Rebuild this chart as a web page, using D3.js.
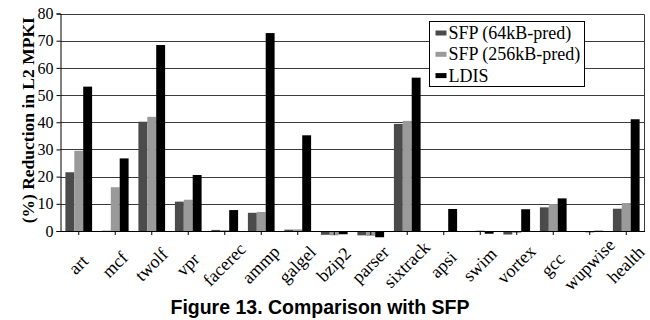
<!DOCTYPE html>
<html>
<head>
<meta charset="utf-8">
<script src="https://cdn.jsdelivr.net/npm/d3@7"></script>
<style>
	body { margin: 0; background: #fff; }
	svg { display: block; }
</style>
</head>
<body>
<svg id="chart" width="650" height="320"></svg>
<script>
// benchmarks along the x axis
const benchmarks = ["art", "mcf", "twolf", "vpr", "facerec", "ammp", "galgel", "bzip2",
	"parser", "sixtrack", "apsi", "swim", "vortex", "gcc", "wupwise", "health"];
// series, % reduction in L2 MPKI
const seriesNames = ["SFP (64kB-pred)", "SFP (256kB-pred)", "LDIS"];
const sfp64 = [21.6, 0.1, 40.2, 10.8, 0.4, 6.7, 0.5, -1.4, -1.6, 39.4, -0.3, -0.2, -1.3, 8.7, -0.3, 8.2];
const sfp256 = [29.5, 16.1, 42.0, 11.5, 0.3, 7.0, 0.6, -1.6, -1.8, 40.5, -0.4, 0.2, -0.7, 9.9, -0.6, 10.3];
const ldis = [53.1, 26.7, 68.4, 20.6, 7.7, 72.8, 35.2, -1.2, -2.3, 56.4, 8.1, -1.0, 8.0, 12.0, 0.1, 41.1];
const yTicks = [0, 10, 20, 30, 40, 50, 60, 70, 80];

const colors = ["#4b4b4b", "#9a9a9a", "#000"];
const serif = "'Liberation Serif', 'Times New Roman', serif";

function drawChart() {
	const svg = d3.select("#chart");
	const left = 60.5, right = 644.5, top = 13.5, bottom = 231;

	const x = d3.scaleBand().domain(benchmarks).range([left, right]);
	const x1 = d3.scaleBand().domain(d3.range(3)).range([0, x.bandwidth()]).paddingOuter(0.55);
	const y = d3.scaleLinear().domain([0, 80]).range([bottom, top]);

	// grid lines
	svg.append("g")
		.selectAll("line")
		.data(yTicks.filter(d => d > 0))
		.join("line")
		.attr("x1", left).attr("x2", right)
		.attr("y1", d => Math.round(y(d)) + 0.5).attr("y2", d => Math.round(y(d)) + 0.5)
		.attr("stroke", "#3a3a3a").attr("stroke-width", 1);
	// right frame
	svg.append("line")
		.attr("x1", right).attr("x2", right)
		.attr("y1", Math.round(y(80)) + 0.5).attr("y2", y(0))
		.attr("stroke", "#3a3a3a");

	// bars
	const values = [sfp64, sfp256, ldis];
	const rows = [];
	benchmarks.forEach((b, i) => {
		values.forEach((v, s) => rows.push({ b: b, s: s, v: v[i] }));
	});
	svg.append("g")
		.selectAll("rect")
		.data(rows)
		.join("rect")
		.attr("x", d => x(d.b) + x1(d.s))
		.attr("width", x1.bandwidth())
		.attr("y", d => y(Math.max(0, d.v)))
		.attr("height", d => Math.abs(y(d.v) - y(0)))
		.attr("fill", d => colors[d.s]);

	// y axis
	const yAxis = svg.append("g")
		.attr("transform", `translate(${left},0)`)
		.call(d3.axisLeft(y).tickValues(yTicks).tickSize(4).tickPadding(3));
	yAxis.attr("font-family", serif).attr("font-size", 16);
	yAxis.select(".domain").attr("stroke", "#000");
	yAxis.selectAll("text").attr("fill", "#000");

	// x axis, labels rotated and centred under their tick
	const xAxis = svg.append("g")
		.attr("transform", `translate(0,${bottom})`)
		.call(d3.axisBottom(x).tickSize(4).tickSizeOuter(0));
	xAxis.attr("font-family", serif).attr("font-size", 18);
	xAxis.select(".domain").attr("stroke", "#000");
	xAxis.selectAll("text")
		.attr("fill", "#000")
		.attr("text-anchor", "middle")
		.attr("x", 0).attr("y", 0).attr("dy", "0.3em")
		.attr("transform", "translate(0,34) rotate(-45)");

	// y label
	svg.append("text")
		.attr("transform", `translate(34,${(top + bottom) / 2 - 2}) rotate(-90)`)
		.attr("text-anchor", "middle")
		.attr("font-family", serif)
		.attr("font-weight", "bold")
		.attr("font-size", 17.5)
		.text("(%) Reduction in L2 MPKI");

	// legend
	const lg = svg.append("g").attr("transform", "translate(429.5,21.5)");
	lg.append("rect")
		.attr("width", 155).attr("height", 65)
		.attr("fill", "#fff").attr("stroke", "#000");
	const items = lg.selectAll("g.item")
		.data(seriesNames)
		.join("g")
		.attr("transform", (d, i) => `translate(0,${11.5 + i * 21.3})`);
	items.append("rect")
		.attr("x", 6).attr("y", -2.5).attr("width", 11).attr("height", 5)
		.attr("fill", (d, i) => colors[i]);
	items.append("text")
		.attr("x", 19).attr("dy", "0.33em")
		.attr("font-family", serif)
		.attr("font-size", 18)
		.text(d => d);

	// caption
	svg.append("text")
		.attr("x", 320).attr("y", 314)
		.attr("text-anchor", "middle")
		.attr("font-family", "'Liberation Sans', Arial, sans-serif")
		.attr("font-weight", "bold")
		.attr("font-size", 19.5)
		.text("Figure 13. Comparison with SFP");
}

drawChart();
</script>
</body>
</html>
